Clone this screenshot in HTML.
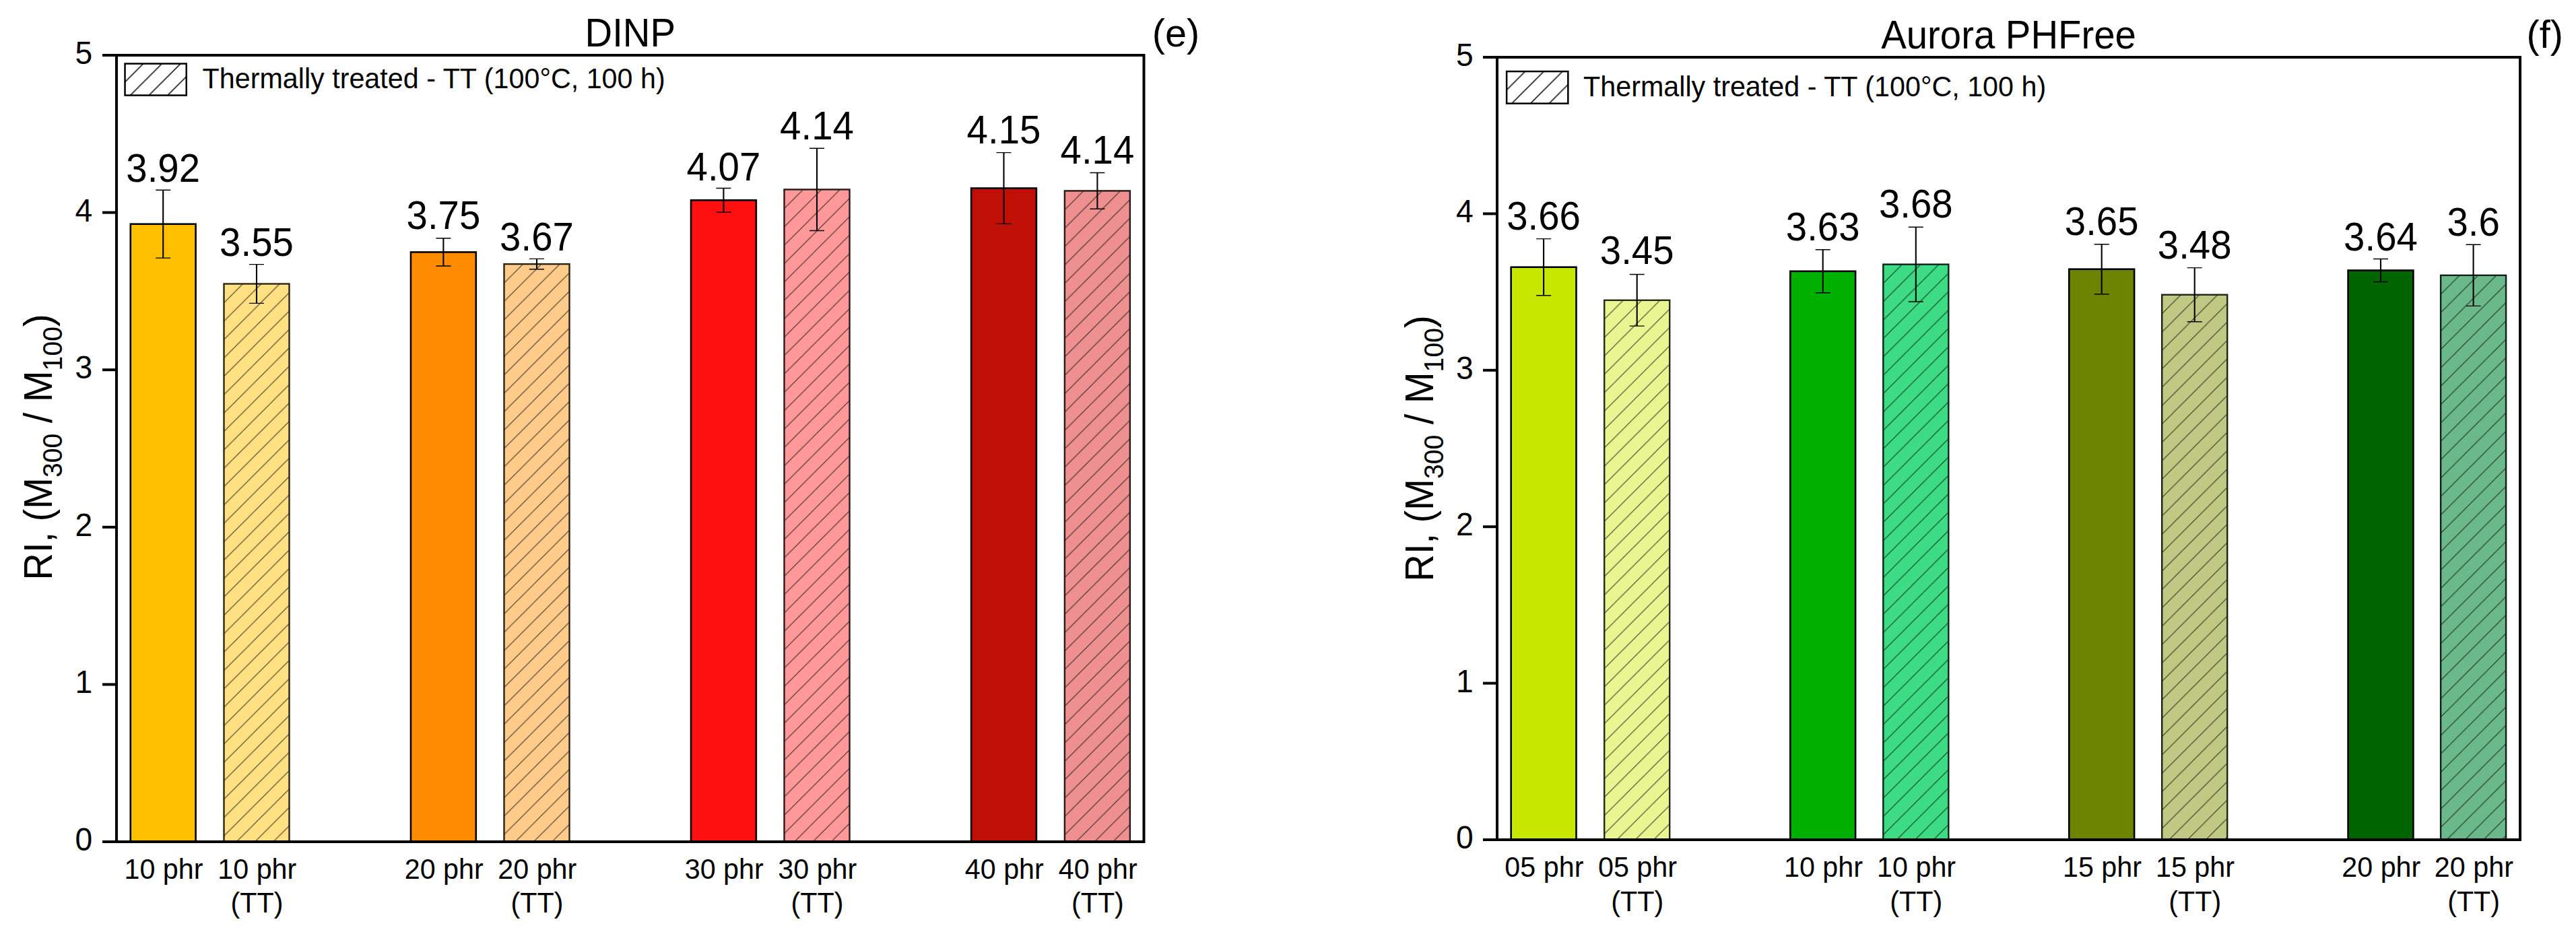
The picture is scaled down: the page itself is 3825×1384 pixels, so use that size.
<!DOCTYPE html>
<html lang="en"><head><meta charset="utf-8"><title>RI bar charts</title>
<style>html,body{margin:0;padding:0;background:#fff}svg{display:block}text{font-family:'Liberation Sans', Arial, sans-serif;fill:#000}</style>
</head><body>
<svg width="3825" height="1384" viewBox="0 0 3825 1384">
<rect x="0" y="0" width="3825" height="1384" fill="#fff"/>
<defs><pattern id="he1" patternUnits="userSpaceOnUse" x="334.4" y="420.5" width="27.3" height="27.3"><path d="M-1 1 L1 -1 M-1 28.3 L28.3 -1 M26.3 28.3 L28.3 26.3" stroke="#3f3820" stroke-width="1.1" fill="none"/></pattern><pattern id="he3" patternUnits="userSpaceOnUse" x="750.4" y="391.1" width="27.3" height="27.3"><path d="M-1 1 L1 -1 M-1 28.3 L28.3 -1 M26.3 28.3 L28.3 26.3" stroke="#3f3222" stroke-width="1.1" fill="none"/></pattern><pattern id="he5" patternUnits="userSpaceOnUse" x="1166.4" y="280.4" width="27.3" height="27.3"><path d="M-1 1 L1 -1 M-1 28.3 L28.3 -1 M26.3 28.3 L28.3 26.3" stroke="#3f2626" stroke-width="1.1" fill="none"/></pattern><pattern id="he7" patternUnits="userSpaceOnUse" x="1582.8" y="282.4" width="27.3" height="27.3"><path d="M-1 1 L1 -1 M-1 28.3 L28.3 -1 M26.3 28.3 L28.3 26.3" stroke="#3b2424" stroke-width="1.1" fill="none"/></pattern><pattern id="hle" patternUnits="userSpaceOnUse" x="186.8" y="120.53" width="27.7" height="27.7"><path d="M-1 1 L1 -1 M-1 28.7 L28.7 -1 M26.7 28.7 L28.7 26.7" stroke="#000" stroke-width="1.5" fill="none"/></pattern><pattern id="hf1" patternUnits="userSpaceOnUse" x="2384.1" y="444.8" width="27.3" height="27.3"><path d="M-1 1 L1 -1 M-1 28.3 L28.3 -1 M26.3 28.3 L28.3 26.3" stroke="#3a3d24" stroke-width="1.1" fill="none"/></pattern><pattern id="hf3" patternUnits="userSpaceOnUse" x="2798.2" y="391.6" width="27.3" height="27.3"><path d="M-1 1 L1 -1 M-1 28.3 L28.3 -1 M26.3 28.3 L28.3 26.3" stroke="#0f3721" stroke-width="1.1" fill="none"/></pattern><pattern id="hf5" patternUnits="userSpaceOnUse" x="3212.1" y="436.7" width="27.3" height="27.3"><path d="M-1 1 L1 -1 M-1 28.3 L28.3 -1 M26.3 28.3 L28.3 26.3" stroke="#2f3220" stroke-width="1.1" fill="none"/></pattern><pattern id="hf7" patternUnits="userSpaceOnUse" x="3626" y="407.8" width="27.3" height="27.3"><path d="M-1 1 L1 -1 M-1 28.3 L28.3 -1 M26.3 28.3 L28.3 26.3" stroke="#1a2e22" stroke-width="1.1" fill="none"/></pattern><pattern id="hlf" patternUnits="userSpaceOnUse" x="2238.4" y="132.36" width="27.7" height="27.7"><path d="M-1 1 L1 -1 M-1 28.7 L28.7 -1 M26.7 28.7 L28.7 26.7" stroke="#000" stroke-width="1.5" fill="none"/></pattern></defs>
<g id="plot-e">
<rect x="193.8" y="332.7" width="96.8" height="917.3" fill="#FFC000" stroke="#000" stroke-width="2.6"/>
<rect x="332.5" y="421.5" width="97" height="828.5" fill="#FFE082"/>
<rect x="332.5" y="421.5" width="97" height="828.5" fill="url(#he1)"/>
<rect x="332.5" y="421.5" width="97" height="828.5" fill="none" stroke="#2b2616" stroke-width="2.4"/>
<rect x="610" y="374.4" width="96.8" height="875.6" fill="#FF8C00" stroke="#000" stroke-width="2.6"/>
<rect x="748.5" y="392.1" width="97" height="857.9" fill="#FFCB8A"/>
<rect x="748.5" y="392.1" width="97" height="857.9" fill="url(#he3)"/>
<rect x="748.5" y="392.1" width="97" height="857.9" fill="none" stroke="#2b2217" stroke-width="2.4"/>
<rect x="1026" y="297.3" width="96.8" height="952.7" fill="#FF1010" stroke="#000" stroke-width="2.6"/>
<rect x="1164.5" y="281.4" width="97" height="968.6" fill="#FF9999"/>
<rect x="1164.5" y="281.4" width="97" height="968.6" fill="url(#he5)"/>
<rect x="1164.5" y="281.4" width="97" height="968.6" fill="none" stroke="#2b1a1a" stroke-width="2.4"/>
<rect x="1442.1" y="279.5" width="96.8" height="970.5" fill="#C01005" stroke="#000" stroke-width="2.6"/>
<rect x="1580.9" y="283.4" width="97" height="966.6" fill="#EE9090"/>
<rect x="1580.9" y="283.4" width="97" height="966.6" fill="url(#he7)"/>
<rect x="1580.9" y="283.4" width="97" height="966.6" fill="none" stroke="#281818" stroke-width="2.4"/>
<path d="M242.2 282.3 V383.1" stroke="#000" stroke-width="2.1" fill="none"/>
<path d="M231.2 282.3 H253.2 M231.2 383.1 H253.2" stroke="#000" stroke-width="1.4" fill="none"/>
<path d="M381 392.6 V450.4" stroke="#000" stroke-width="2.1" fill="none"/>
<path d="M370 392.6 H392 M370 450.4 H392" stroke="#000" stroke-width="1.4" fill="none"/>
<path d="M658.4 353.8 V395" stroke="#000" stroke-width="2.1" fill="none"/>
<path d="M647.4 353.8 H669.4 M647.4 395 H669.4" stroke="#000" stroke-width="1.4" fill="none"/>
<path d="M797 384.4 V399.8" stroke="#000" stroke-width="2.1" fill="none"/>
<path d="M786 384.4 H808 M786 399.8 H808" stroke="#000" stroke-width="1.4" fill="none"/>
<path d="M1074.4 279.5 V315.1" stroke="#000" stroke-width="2.1" fill="none"/>
<path d="M1063.4 279.5 H1085.4 M1063.4 315.1 H1085.4" stroke="#000" stroke-width="1.4" fill="none"/>
<path d="M1213 220.3 V342.5" stroke="#000" stroke-width="2.1" fill="none"/>
<path d="M1202 220.3 H1224 M1202 342.5 H1224" stroke="#000" stroke-width="1.4" fill="none"/>
<path d="M1490.5 226.6 V332.4" stroke="#000" stroke-width="2.1" fill="none"/>
<path d="M1479.5 226.6 H1501.5 M1479.5 332.4 H1501.5" stroke="#000" stroke-width="1.4" fill="none"/>
<path d="M1629.4 256.5 V310.3" stroke="#000" stroke-width="2.1" fill="none"/>
<path d="M1618.4 256.5 H1640.4 M1618.4 310.3 H1640.4" stroke="#000" stroke-width="1.4" fill="none"/>
<path d="M152 82 H1700.5 M152 1250 H1700.5 M173 82 V1250 M1698.5 82 V1250" stroke="#000" stroke-width="4" fill="none"/>
<text transform="translate(137.2 1263) scale(1 1.045)" font-size="46.3" text-anchor="end">0</text>
<path d="M152 1016.4 H173" stroke="#000" stroke-width="4"/>
<text transform="translate(137.2 1029.4) scale(1 1.045)" font-size="46.3" text-anchor="end">1</text>
<path d="M152 782.8 H173" stroke="#000" stroke-width="4"/>
<text transform="translate(137.2 795.8) scale(1 1.045)" font-size="46.3" text-anchor="end">2</text>
<path d="M152 549.2 H173" stroke="#000" stroke-width="4"/>
<text transform="translate(137.2 562.2) scale(1 1.045)" font-size="46.3" text-anchor="end">3</text>
<path d="M152 315.6 H173" stroke="#000" stroke-width="4"/>
<text transform="translate(137.2 328.6) scale(1 1.045)" font-size="46.3" text-anchor="end">4</text>
<text transform="translate(137.2 95) scale(1 1.045)" font-size="46.3" text-anchor="end">5</text>
<text transform="translate(935.75 68.7) scale(1 1.045)" font-size="56.3" text-anchor="middle">DINP</text>
<text transform="translate(1710.8 68.7) scale(1 1.0)" font-size="57.6">(e)</text>
<rect x="185.55" y="94.55" width="91.2" height="47" fill="url(#hle)" stroke="#000" stroke-width="2.5"/>
<text transform="translate(300.5 131.3) scale(1 1.045)" font-size="41.3">Thermally treated - TT (100°C, 100 h)</text>
<text transform="translate(77 861.5) rotate(-90) scale(1 1.045)" font-size="56">RI, (M<tspan font-size="39.2" dy="14.6">300</tspan><tspan dy="-14.6"> / M</tspan><tspan font-size="39.2" dy="14.6">100</tspan><tspan dy="-14.6">)</tspan></text>
<text transform="translate(243 1304.5) scale(1 1.045)" font-size="41.3" text-anchor="middle">10 phr</text>
<text transform="translate(381.8 1304.5) scale(1 1.045)" font-size="41.3" text-anchor="middle">10 phr</text>
<text transform="translate(381.5 1355) scale(1 1.045)" font-size="41.3" text-anchor="middle">(TT)</text>
<text transform="translate(659.2 1304.5) scale(1 1.045)" font-size="41.3" text-anchor="middle">20 phr</text>
<text transform="translate(797.8 1304.5) scale(1 1.045)" font-size="41.3" text-anchor="middle">20 phr</text>
<text transform="translate(797.5 1355) scale(1 1.045)" font-size="41.3" text-anchor="middle">(TT)</text>
<text transform="translate(1075.2 1304.5) scale(1 1.045)" font-size="41.3" text-anchor="middle">30 phr</text>
<text transform="translate(1213.8 1304.5) scale(1 1.045)" font-size="41.3" text-anchor="middle">30 phr</text>
<text transform="translate(1213.5 1355) scale(1 1.045)" font-size="41.3" text-anchor="middle">(TT)</text>
<text transform="translate(1491.3 1304.5) scale(1 1.045)" font-size="41.3" text-anchor="middle">40 phr</text>
<text transform="translate(1630.2 1304.5) scale(1 1.045)" font-size="41.3" text-anchor="middle">40 phr</text>
<text transform="translate(1629.9 1355) scale(1 1.045)" font-size="41.3" text-anchor="middle">(TT)</text>
<text transform="translate(242.2 270.4) scale(1 1.045)" font-size="56.4" text-anchor="middle">3.92</text>
<text transform="translate(381 380) scale(1 1.045)" font-size="56.4" text-anchor="middle">3.55</text>
<text transform="translate(658.4 339.6) scale(1 1.045)" font-size="56.4" text-anchor="middle">3.75</text>
<text transform="translate(797 372.3) scale(1 1.045)" font-size="56.4" text-anchor="middle">3.67</text>
<text transform="translate(1074.4 267.8) scale(1 1.045)" font-size="56.4" text-anchor="middle">4.07</text>
<text transform="translate(1213 206.8) scale(1 1.045)" font-size="56.4" text-anchor="middle">4.14</text>
<text transform="translate(1490.5 213.4) scale(1 1.045)" font-size="56.4" text-anchor="middle">4.15</text>
<text transform="translate(1629.4 242.5) scale(1 1.045)" font-size="56.4" text-anchor="middle">4.14</text>
</g>
<g id="plot-f">
<rect x="2243.7" y="396.7" width="96.8" height="850.3" fill="#C8E800" stroke="#000" stroke-width="2.6"/>
<rect x="2382.2" y="445.8" width="97" height="801.2" fill="#E8F590"/>
<rect x="2382.2" y="445.8" width="97" height="801.2" fill="url(#hf1)"/>
<rect x="2382.2" y="445.8" width="97" height="801.2" fill="none" stroke="#272918" stroke-width="2.4"/>
<rect x="2658.3" y="402.8" width="96.8" height="844.2" fill="#00B000" stroke="#000" stroke-width="2.6"/>
<rect x="2796.3" y="392.6" width="97" height="854.4" fill="#3DDC84"/>
<rect x="2796.3" y="392.6" width="97" height="854.4" fill="url(#hf3)"/>
<rect x="2796.3" y="392.6" width="97" height="854.4" fill="none" stroke="#0a2516" stroke-width="2.4"/>
<rect x="3072.3" y="399.7" width="96.8" height="847.3" fill="#6B8500" stroke="#000" stroke-width="2.6"/>
<rect x="3210.2" y="437.7" width="97" height="809.3" fill="#BFC983"/>
<rect x="3210.2" y="437.7" width="97" height="809.3" fill="url(#hf5)"/>
<rect x="3210.2" y="437.7" width="97" height="809.3" fill="none" stroke="#202216" stroke-width="2.4"/>
<rect x="3486.6" y="401.5" width="96.8" height="845.5" fill="#006400" stroke="#000" stroke-width="2.6"/>
<rect x="3624.1" y="408.8" width="97" height="838.2" fill="#6BB98A"/>
<rect x="3624.1" y="408.8" width="97" height="838.2" fill="url(#hf7)"/>
<rect x="3624.1" y="408.8" width="97" height="838.2" fill="none" stroke="#121f17" stroke-width="2.4"/>
<path d="M2292.1 354.6 V438.8" stroke="#000" stroke-width="2.1" fill="none"/>
<path d="M2281.1 354.6 H2303.1 M2281.1 438.8 H2303.1" stroke="#000" stroke-width="1.4" fill="none"/>
<path d="M2430.7 407.5 V484.1" stroke="#000" stroke-width="2.1" fill="none"/>
<path d="M2419.7 407.5 H2441.7 M2419.7 484.1 H2441.7" stroke="#000" stroke-width="1.4" fill="none"/>
<path d="M2706.7 370.8 V434.8" stroke="#000" stroke-width="2.1" fill="none"/>
<path d="M2695.7 370.8 H2717.7 M2695.7 434.8 H2717.7" stroke="#000" stroke-width="1.4" fill="none"/>
<path d="M2844.8 337.2 V448" stroke="#000" stroke-width="2.1" fill="none"/>
<path d="M2833.8 337.2 H2855.8 M2833.8 448 H2855.8" stroke="#000" stroke-width="1.4" fill="none"/>
<path d="M3120.7 362.7 V436.7" stroke="#000" stroke-width="2.1" fill="none"/>
<path d="M3109.7 362.7 H3131.7 M3109.7 436.7 H3131.7" stroke="#000" stroke-width="1.4" fill="none"/>
<path d="M3258.7 397.6 V477.8" stroke="#000" stroke-width="2.1" fill="none"/>
<path d="M3247.7 397.6 H3269.7 M3247.7 477.8 H3269.7" stroke="#000" stroke-width="1.4" fill="none"/>
<path d="M3535 384.5 V418.5" stroke="#000" stroke-width="2.1" fill="none"/>
<path d="M3524 384.5 H3546 M3524 418.5 H3546" stroke="#000" stroke-width="1.4" fill="none"/>
<path d="M3672.6 363.2 V454.4" stroke="#000" stroke-width="2.1" fill="none"/>
<path d="M3661.6 363.2 H3683.6 M3661.6 454.4 H3683.6" stroke="#000" stroke-width="1.4" fill="none"/>
<path d="M2202 85 H3744 M2202 1247 H3744 M2223 85 V1247 M3742 85 V1247" stroke="#000" stroke-width="4" fill="none"/>
<text transform="translate(2187.7 1260) scale(1 1.045)" font-size="46.3" text-anchor="end">0</text>
<path d="M2202 1014.6 H2223" stroke="#000" stroke-width="4"/>
<text transform="translate(2187.7 1027.6) scale(1 1.045)" font-size="46.3" text-anchor="end">1</text>
<path d="M2202 782.2 H2223" stroke="#000" stroke-width="4"/>
<text transform="translate(2187.7 795.2) scale(1 1.045)" font-size="46.3" text-anchor="end">2</text>
<path d="M2202 549.8 H2223" stroke="#000" stroke-width="4"/>
<text transform="translate(2187.7 562.8) scale(1 1.045)" font-size="46.3" text-anchor="end">3</text>
<path d="M2202 317.4 H2223" stroke="#000" stroke-width="4"/>
<text transform="translate(2187.7 330.4) scale(1 1.045)" font-size="46.3" text-anchor="end">4</text>
<text transform="translate(2187.7 98) scale(1 1.045)" font-size="46.3" text-anchor="end">5</text>
<text transform="translate(2982.5 72.2) scale(1 1.045)" font-size="56.3" text-anchor="middle">Aurora PHFree</text>
<text transform="translate(3751.6 71) scale(1 1.0)" font-size="57.6">(f)</text>
<rect x="2237.15" y="106.05" width="91.2" height="47.6" fill="url(#hlf)" stroke="#000" stroke-width="2.5"/>
<text transform="translate(2351 142.7) scale(1 1.045)" font-size="41.3">Thermally treated - TT (100°C, 100 h)</text>
<text transform="translate(2127.5 863.5) rotate(-90) scale(1 1.045)" font-size="56">RI, (M<tspan font-size="39.2" dy="14.6">300</tspan><tspan dy="-14.6"> / M</tspan><tspan font-size="39.2" dy="14.6">100</tspan><tspan dy="-14.6">)</tspan></text>
<text transform="translate(2292.9 1302.3) scale(1 1.045)" font-size="41.3" text-anchor="middle">05 phr</text>
<text transform="translate(2431.5 1302.3) scale(1 1.045)" font-size="41.3" text-anchor="middle">05 phr</text>
<text transform="translate(2431.2 1352.8) scale(1 1.045)" font-size="41.3" text-anchor="middle">(TT)</text>
<text transform="translate(2707.5 1302.3) scale(1 1.045)" font-size="41.3" text-anchor="middle">10 phr</text>
<text transform="translate(2845.6 1302.3) scale(1 1.045)" font-size="41.3" text-anchor="middle">10 phr</text>
<text transform="translate(2845.3 1352.8) scale(1 1.045)" font-size="41.3" text-anchor="middle">(TT)</text>
<text transform="translate(3121.5 1302.3) scale(1 1.045)" font-size="41.3" text-anchor="middle">15 phr</text>
<text transform="translate(3259.5 1302.3) scale(1 1.045)" font-size="41.3" text-anchor="middle">15 phr</text>
<text transform="translate(3259.2 1352.8) scale(1 1.045)" font-size="41.3" text-anchor="middle">(TT)</text>
<text transform="translate(3535.8 1302.3) scale(1 1.045)" font-size="41.3" text-anchor="middle">20 phr</text>
<text transform="translate(3673.4 1302.3) scale(1 1.045)" font-size="41.3" text-anchor="middle">20 phr</text>
<text transform="translate(3673.1 1352.8) scale(1 1.045)" font-size="41.3" text-anchor="middle">(TT)</text>
<text transform="translate(2292.1 341) scale(1 1.045)" font-size="56.4" text-anchor="middle">3.66</text>
<text transform="translate(2430.7 392) scale(1 1.045)" font-size="56.4" text-anchor="middle">3.45</text>
<text transform="translate(2706.7 357.1) scale(1 1.045)" font-size="56.4" text-anchor="middle">3.63</text>
<text transform="translate(2844.8 322.9) scale(1 1.045)" font-size="56.4" text-anchor="middle">3.68</text>
<text transform="translate(3120.7 349.1) scale(1 1.045)" font-size="56.4" text-anchor="middle">3.65</text>
<text transform="translate(3258.7 383.7) scale(1 1.045)" font-size="56.4" text-anchor="middle">3.48</text>
<text transform="translate(3535 372) scale(1 1.045)" font-size="56.4" text-anchor="middle">3.64</text>
<text transform="translate(3672.6 350.3) scale(1 1.045)" font-size="56.4" text-anchor="middle">3.6</text>
</g>
</svg></body></html>
